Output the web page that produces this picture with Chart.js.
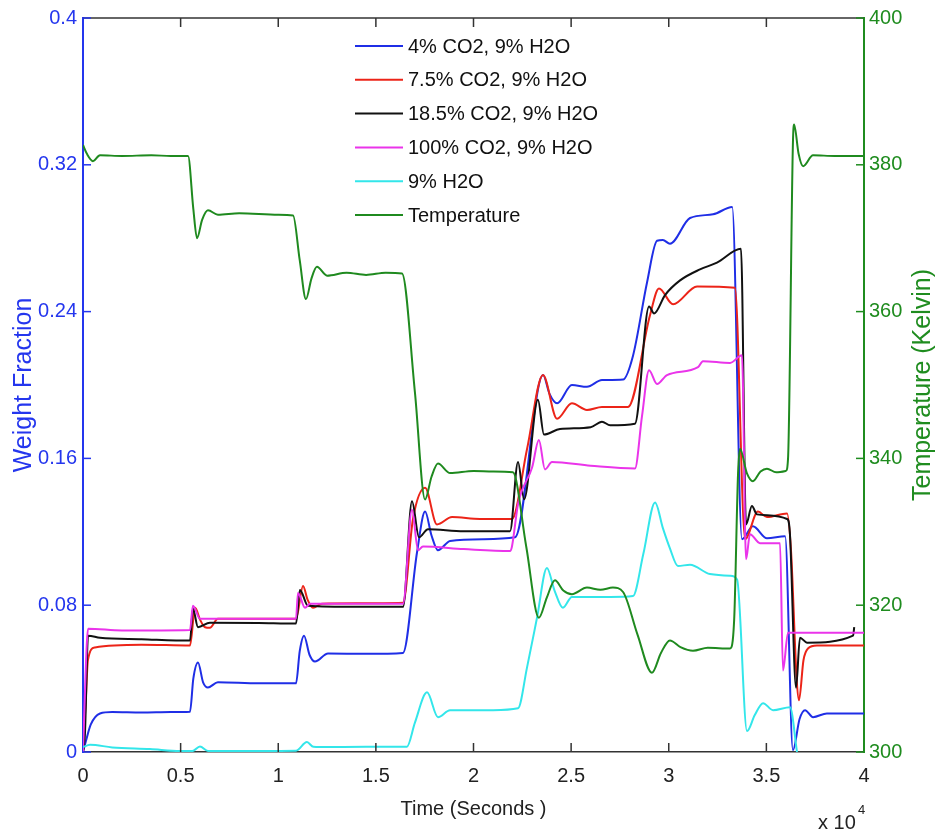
<!DOCTYPE html>
<html>
<head>
<meta charset="utf-8">
<script src="https://cdn.jsdelivr.net/npm/chart.js@4.4.1/dist/chart.umd.min.js"></script>
<style>
  html, body { margin: 0; padding: 0; background: #fff; }
</style>
</head>
<body>
<canvas id="plot" width="937" height="834"></canvas>
<script>
// time in units of 10^4 s, weight fraction on left axis, Kelvin on right axis
const timeTicks = [0, 0.5, 1, 1.5, 2, 2.5, 3, 3.5, 4];
const timeTickLabels = ['0', '0.5', '1', '1.5', '2', '2.5', '3', '3.5', '4'];
const weightTicks = [0, 0.08, 0.16, 0.24, 0.32, 0.4];
const weightTickLabels = ['0', '0.08', '0.16', '0.24', '0.32', '0.4'];
const tempTicks = [300, 320, 340, 360, 380, 400];
const tempTickLabels = ['300', '320', '340', '360', '380', '400'];

const seriesNames = ['4% CO2, 9% H2O', '7.5% CO2, 9% H2O', '18.5% CO2, 9% H2O', '100% CO2, 9% H2O', '9% H2O', 'Temperature'];

const co2_4 = [[0,0],[0.015,0.006],[0.04,0.015],[0.087,0.021],[0.15,0.0218],[0.3,0.0215],[0.45,0.0218],[0.548,0.022],[0.565,0.04],[0.589,0.0488],[0.615,0.038],[0.64,0.0352],[0.691,0.038],[0.9,0.0374],[1.091,0.0374],[1.11,0.055],[1.132,0.0634],[1.16,0.053],[1.188,0.0493],[1.255,0.0537],[1.45,0.0535],[1.639,0.054],[1.711,0.109],[1.752,0.131],[1.785,0.118],[1.818,0.11],[1.88,0.115],[2.05,0.116],[2.213,0.117],[2.356,0.2054],[2.39,0.195],[2.428,0.19],[2.504,0.2],[2.581,0.199],[2.658,0.2027],[2.766,0.203],[2.817,0.216],[2.889,0.256],[2.94,0.2786],[2.97,0.279],[3.006,0.277],[3.109,0.291],[3.227,0.293],[3.325,0.297],[3.375,0.116],[3.431,0.123],[3.503,0.1165],[3.596,0.1176],[3.636,0.001],[3.67,0.018],[3.698,0.0228],[3.739,0.019],[3.81,0.021],[4,0.021]];

const co2_75 = [[0,0],[0.015,0.03],[0.025,0.05],[0.061,0.057],[0.3,0.0585],[0.548,0.058],[0.574,0.0786],[0.6,0.072],[0.625,0.068],[0.65,0.0677],[0.691,0.0726],[0.9,0.0726],[1.091,0.0726],[1.127,0.0905],[1.15,0.083],[1.178,0.0786],[1.224,0.0808],[1.4,0.081],[1.639,0.0813],[1.69,0.127],[1.752,0.144],[1.813,0.124],[1.89,0.128],[2.033,0.127],[2.197,0.127],[2.274,0.165],[2.356,0.2054],[2.428,0.1816],[2.504,0.19],[2.581,0.1864],[2.658,0.188],[2.791,0.188],[2.904,0.238],[2.95,0.2526],[3.022,0.244],[3.145,0.2537],[3.339,0.253],[3.391,0.116],[3.457,0.131],[3.503,0.128],[3.606,0.13],[3.626,0.11],[3.655,0.04],[3.667,0.0282],[3.69,0.05],[3.713,0.0564],[3.759,0.058],[4,0.058]];

const co2_185 = [[0,0],[0.01,0.01],[0.026,0.0634],[0.087,0.0623],[0.3,0.0615],[0.548,0.0607],[0.563,0.078],[0.589,0.068],[0.65,0.0705],[0.9,0.0703],[1.091,0.07],[1.111,0.0883],[1.152,0.0797],[1.4,0.0791],[1.639,0.0791],[1.685,0.1366],[1.721,0.117],[1.767,0.1214],[1.95,0.1203],[2.187,0.1203],[2.228,0.158],[2.259,0.1377],[2.33,0.192],[2.361,0.173],[2.443,0.176],[2.6,0.177],[2.658,0.18],[2.7,0.178],[2.827,0.1789],[2.899,0.2428],[2.925,0.239],[2.981,0.249],[3.058,0.257],[3.16,0.263],[3.247,0.2667],[3.37,0.2742],[3.396,0.124],[3.426,0.134],[3.452,0.1295],[3.606,0.127],[3.62,0.12],[3.652,0.035],[3.672,0.0623],[3.708,0.0596],[3.944,0.0634],[3.95,0.068]];

const co2_100 = [[0,0],[0.02,0.06],[0.026,0.0672],[0.2,0.0662],[0.548,0.0665],[0.563,0.0797],[0.599,0.0726],[0.9,0.0726],[1.091,0.0726],[1.101,0.0867],[1.137,0.0786],[1.163,0.0808],[1.639,0.0808],[1.685,0.132],[1.716,0.11],[1.741,0.112],[1.95,0.1106],[2.187,0.1095],[2.197,0.112],[2.228,0.135],[2.3,0.155],[2.335,0.17],[2.366,0.154],[2.402,0.158],[2.6,0.156],[2.827,0.1545],[2.863,0.183],[2.899,0.208],[2.94,0.2005],[2.991,0.2054],[3.15,0.2097],[3.175,0.213],[3.314,0.212],[3.375,0.2162],[3.396,0.105],[3.416,0.1187],[3.467,0.1138],[3.57,0.1138],[3.585,0.0444],[3.611,0.065],[4,0.065]];

const h2o_9 = [[0,0.0027],[0.036,0.004],[0.15,0.0025],[0.343,0.0016],[0.497,0.0005],[0.56,0.0005],[0.599,0.003],[0.64,0.0006],[0.9,0.0006],[1.091,0.0007],[1.147,0.0054],[1.18,0.0028],[1.214,0.0027],[1.45,0.0028],[1.659,0.0029],[1.7,0.016],[1.762,0.0325],[1.818,0.019],[1.88,0.0228],[2.1,0.0228],[2.228,0.0238],[2.274,0.046],[2.325,0.073],[2.376,0.1003],[2.415,0.088],[2.458,0.0786],[2.504,0.0845],[2.7,0.0845],[2.817,0.085],[2.87,0.108],[2.93,0.136],[2.97,0.122],[3.006,0.111],[3.047,0.1014],[3.109,0.102],[3.211,0.097],[3.314,0.096],[3.35,0.094],[3.401,0.0114],[3.44,0.02],[3.483,0.0266],[3.534,0.0228],[3.621,0.0244],[3.657,0]];

const tempK = [[0,382.7],[0.02,381.5],[0.051,380.5],[0.087,381.3],[0.2,381.2],[0.35,381.3],[0.45,381.2],[0.538,381.2],[0.565,374],[0.584,370],[0.61,372.5],[0.64,373.8],[0.691,373.2],[0.8,373.4],[1.0,373.2],[1.076,373.1],[1.11,367],[1.142,361.7],[1.17,364.5],[1.198,366.1],[1.25,364.9],[1.35,365.3],[1.45,365],[1.55,365.3],[1.634,365.2],[1.7,349],[1.752,334.4],[1.785,337.5],[1.818,339.3],[1.88,338],[2.0,338.3],[2.1,338.2],[2.202,338.1],[2.27,328],[2.335,318.3],[2.375,321],[2.417,323.4],[2.46,322],[2.504,321.5],[2.581,322.4],[2.65,322.1],[2.714,322.4],[2.766,321.8],[2.84,316],[2.914,310.8],[2.96,313.5],[3.006,315.2],[3.06,314.3],[3.124,313.8],[3.2,314.2],[3.314,314.1],[3.335,318],[3.355,338],[3.365,341.3],[3.4,338],[3.431,336.9],[3.47,338.2],[3.503,338.6],[3.55,338.1],[3.6,338.3],[3.611,340],[3.636,383],[3.642,385.5],[3.665,381.5],[3.688,379.8],[3.739,381.3],[3.85,381.2],[4,381.2]];

const seriesData = [co2_4, co2_75, co2_185, co2_100, h2o_9, tempK];
const seriesColors = ['#1f2ee6', '#ec2418', '#111111', '#ea34ea', '#33e6ea', '#1f8a1f'];

const sans = "'Liberation Sans', Arial, sans-serif";
const blueAxis = '#2436ee';
const greenAxis = '#1f8c1f';

// inward tick marks, top frame line, right axis title and the x 10^4 note
const frame = {
  id: 'frame',
  afterDraw(chart) {
    const c = chart.ctx;
    const a = chart.chartArea;
    const sx = chart.scales.x, sy = chart.scales.y, st = chart.scales.yT;
    c.save();
    c.lineWidth = 1.5;
    c.strokeStyle = '#333';
    c.beginPath(); c.moveTo(a.left, a.top); c.lineTo(a.right, a.top); c.stroke();
    timeTicks.forEach(v => {
      const px = sx.getPixelForValue(v);
      if (v === 0 || v === 4) return;
      c.beginPath();
      c.moveTo(px, a.bottom); c.lineTo(px, a.bottom - 9);
      c.moveTo(px, a.top); c.lineTo(px, a.top + 9);
      c.stroke();
    });
    c.strokeStyle = blueAxis;
    weightTicks.forEach(v => {
      const py = sy.getPixelForValue(v);
      c.beginPath(); c.moveTo(a.left, py); c.lineTo(a.left + 8, py); c.stroke();
    });
    c.strokeStyle = greenAxis;
    tempTicks.forEach(v => {
      const py = st.getPixelForValue(v);
      c.beginPath(); c.moveTo(a.right, py); c.lineTo(a.right - 8, py); c.stroke();
    });

    // right title reads bottom to top, as in the original
    c.save();
    c.translate(923, (a.top + a.bottom) / 2);
    c.rotate(-Math.PI / 2);
    c.fillStyle = greenAxis;
    c.font = '25px ' + sans;
    c.textAlign = 'center';
    c.textBaseline = 'middle';
    c.fillText('Temperature (Kelvin)', 0, 0);
    c.restore();

    c.fillStyle = '#222';
    c.textBaseline = 'alphabetic';
    c.font = '20px ' + sans;
    c.fillText('x 10', 818, 829);
    c.font = '13px ' + sans;
    c.fillText('4', 858, 814);
    c.restore();
  }
};

// legend drawn inside the plot, like the original
const legendBox = {
  id: 'legendBox',
  afterDraw(chart) {
    const c = chart.ctx;
    c.save();
    c.font = '20px ' + sans;
    c.textBaseline = 'middle';
    chart.data.datasets.forEach((ds, i) => {
      const y = 46 + i * 33.8;
      c.strokeStyle = ds.borderColor;
      c.lineWidth = 2;
      c.beginPath(); c.moveTo(355, y); c.lineTo(403, y); c.stroke();
      c.fillStyle = '#111';
      c.fillText(ds.label, 408, y + 1);
    });
    c.restore();
  }
};

const ctx = document.getElementById('plot').getContext('2d');
const chart = new Chart(ctx, {
  type: 'line',
  data: {
    datasets: seriesData.map((pts, i) => ({
      label: seriesNames[i],
      data: pts.map(p => ({ x: p[0], y: p[1] })),
      yAxisID: i === 5 ? 'yT' : 'y',
      borderColor: seriesColors[i],
      borderWidth: 2,
      pointRadius: 0,
      fill: false,
      cubicInterpolationMode: 'monotone',
      order: 6 - i
    }))
  },
  options: {
    responsive: false,
    animation: false,
    devicePixelRatio: 1,
    layout: { padding: { top: 14, left: 0, right: 0, bottom: 0 } },
    plugins: { legend: { display: false }, tooltip: { enabled: false } },
    scales: {
      x: {
        type: 'linear', position: 'bottom', min: 0, max: 4,
        afterBuildTicks: s => { s.ticks = timeTicks.map(v => ({ value: v })); },
        afterFit: s => { s.height = 82; },
        grid: { display: false, drawTicks: false },
        border: { display: true, color: '#333', width: 1.5 },
        ticks: {
          color: '#222', padding: 12, maxRotation: 0, autoSkip: false,
          font: { family: sans, size: 20 },
          callback: (v, i) => timeTickLabels[i]
        },
        title: {
          display: true, text: 'Time (Seconds )', color: '#222',
          font: { family: sans, size: 20 }, padding: { top: 0, bottom: 13 }
        }
      },
      y: {
        type: 'linear', position: 'left', min: 0, max: 0.4,
        afterBuildTicks: s => { s.ticks = weightTicks.map(v => ({ value: v })); },
        afterFit: s => { s.width = 83; },
        grid: { display: false, drawTicks: false },
        border: { display: true, color: blueAxis, width: 2 },
        ticks: {
          color: blueAxis, padding: 6,
          font: { family: sans, size: 20 },
          callback: (v, i) => weightTickLabels[i]
        },
        title: {
          display: true, text: 'Weight Fraction', color: blueAxis,
          font: { family: sans, size: 25 }, padding: { top: 9, bottom: 0 }
        }
      },
      yT: {
        type: 'linear', position: 'right', min: 300, max: 400,
        afterBuildTicks: s => { s.ticks = tempTicks.map(v => ({ value: v })); },
        afterFit: s => { s.width = 73; },
        grid: { display: false, drawTicks: false },
        border: { display: true, color: greenAxis, width: 2 },
        ticks: {
          color: greenAxis, padding: 5,
          font: { family: sans, size: 20 },
          callback: (v, i) => tempTickLabels[i]
        },
        title: { display: false }
      }
    }
  },
  plugins: [frame, legendBox]
});
</script>
</body>
</html>
